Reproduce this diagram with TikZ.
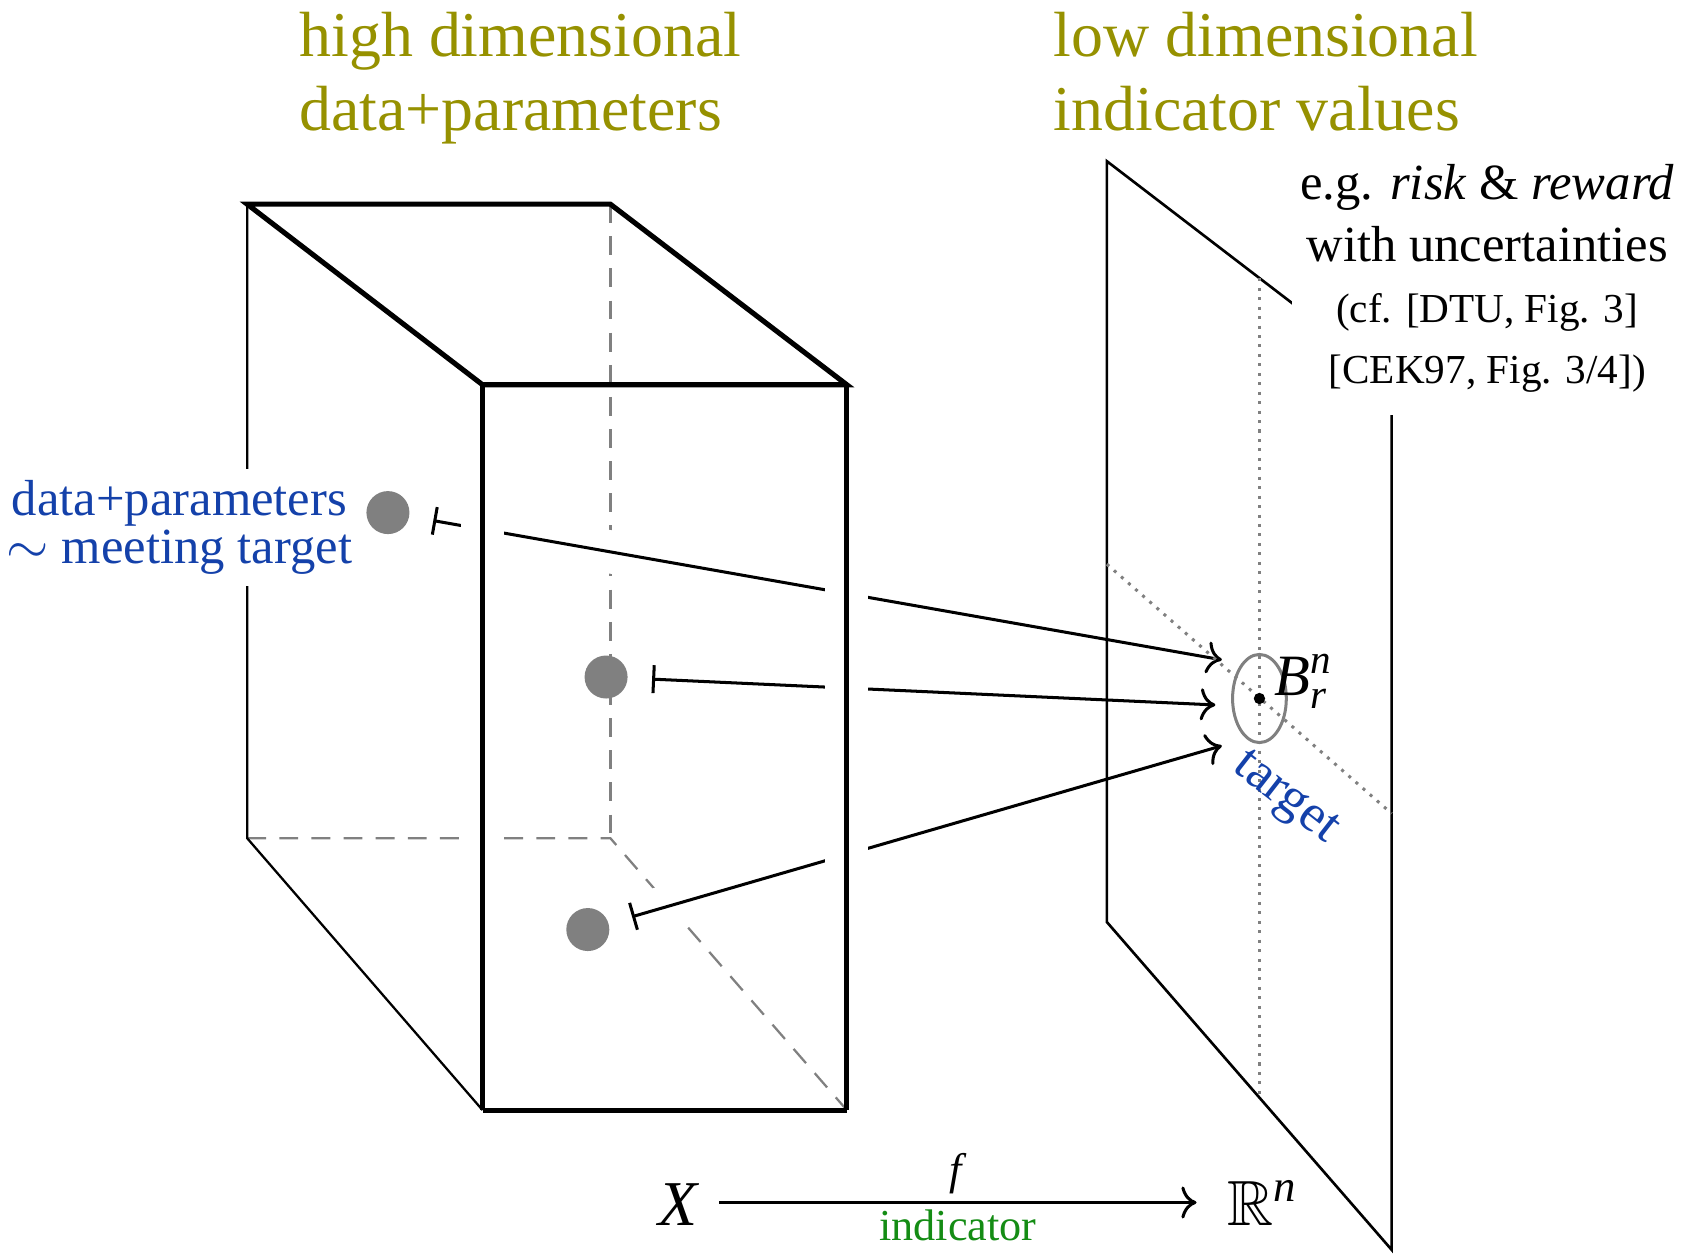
\documentclass[tikz,border=0pt]{standalone}
\usepackage{amsmath,amssymb}
\usepackage{fontspec}
\setmainfont{Liberation Serif}
\usetikzlibrary{arrows.meta}
\definecolor{headolive}{RGB}{150,145,0}
\definecolor{labelblue}{RGB}{20,65,170}
\definecolor{labelgreen}{RGB}{20,140,20}

\begin{document}
\begin{tikzpicture}[
  x=0.01cm, y=-0.01cm,
  edge/.style={line width=1.35pt},
  backedge/.style={line width=0.6pt},
  hidden/.style={gray, line width=0.6pt, dash pattern=on 5pt off 3.5pt},
  onplane/.style={gray, line width=0.8pt, dash pattern=on 0.8pt off 1.7pt},
  halo/.style={preaction={draw=white, line width=0.4cm, -}},
  mapline/.style={line width=0.8pt, {Bar[width=7.4pt]}-{To[length=4pt,width=8.5pt]}, shorten <=6.3pt},
  point/.style={circle, fill=gray, minimum size=0.4cm, inner sep=0pt},
  head/.style={headolive, font=\fontsize{16.9}{19.4}\selectfont, align=left, anchor=north west, inner sep=0pt},
  note/.style={font=\fontsize{13.4}{12.8}\selectfont},
]
\useasboundingbox (0,0) rectangle (1568,1169);

% corners of the box
\coordinate (btl) at (230,190);
\coordinate (btr) at (568,190);
\coordinate (bbl) at (230,780);
\coordinate (bbr) at (568,780);
\coordinate (ftl) at (449,358);
\coordinate (ftr) at (788,358);
\coordinate (fbl) at (449,1033);
\coordinate (fbr) at (788,1033);

% corners of the plane
\coordinate (ptl) at (1030,150);
\coordinate (ptr) at (1295,353);
\coordinate (pbr) at (1295,1163);
\coordinate (pbl) at (1030,858);

% hidden edges
\draw[hidden] (btr) -- (bbr);
\draw[hidden] (bbl) -- (bbr) -- (fbr);

% points in X
\node[point] (p1) at (361,477) {};
\node[point] (p2) at (564,630) {};
\node[point] (p3) at (547,865) {};

\coordinate (hit1) at (1137,614);
\coordinate (hit2) at (1131,656);
\coordinate (hit3) at (1137,694);

\draw[mapline, halo] (p1) -- (hit1);
\draw[mapline, halo] (p2) -- (hit2);
\draw[mapline, halo] (p3) -- (hit3);

% visible edges
\draw[edge, halo] (ftl) -- (fbl);
\draw[edge, preaction={draw=white, line width=0.4cm, shorten >=0.3cm}] (ftr) -- (fbr);
\draw[backedge] (btl) -- (bbl) -- (fbl);
\draw[edge] (btl) -- (btr) -- (ftr) -- (ftl) -- cycle;
\draw[edge] (fbl) -- (fbr);

\node[note, labelblue, align=center, fill=white, inner sep=3pt] (meet) at (167,491)
  {data+parameters\\$\sim$ meeting target};

% target plane
\draw[line width=0.7pt] (ptl) -- (ptr) -- (pbr) -- (pbl) -- cycle;
\draw[onplane] (1172,259) -- (1172,1021);
\draw[onplane] (1030,525) -- (1295,757);
\node[circle, fill, inner sep=0pt, minimum size=3pt] (ctr) at (1172,650) {};
\draw[gray, line width=0.8pt] (ctr) ellipse (25 and 41);
\node[font=\fontsize{15.5}{18}\selectfont] (ball) at (1213,634) {$\textit{B}_{\textit{r}}^{\textit{n}}$};
\node[font=\fontsize{14}{16}\selectfont, labelblue, rotate=-38] (tgt) at (1195,744) {target};

\node[font=\fontsize{13.4}{16.2}\selectfont, align=center, fill=white,
  inner xsep=2.3pt, inner ysep=6pt, anchor=south] (eg) at (1384,387)
  {e.g. \textit{risk} \& \textit{reward}\\with uncertainties\\
   {\fontsize{10.9}{13}\selectfont (cf. [DTU, Fig. 3]}\\
   {\fontsize{10.9}{13}\selectfont [CEK97, Fig. 3/4])}};

% headings
\node[head] (hd1) at (278,11) {high dimensional\\data+parameters};
\node[head] (hd2) at (980,11) {low dimensional\\indicator values};

% the map
\node[font=\fontsize{16.9}{19.4}\selectfont, text height=12pt, text depth=0pt, inner xsep=5pt] (X) at (632,1119) {\textit{X}};
\node[font=\fontsize{16.9}{19.4}\selectfont, text height=12pt, text depth=0pt, inner xsep=8pt] (Rn) at (1175,1119) {$\mathbb{R}^{\textit{n}}$};
\draw[line width=0.8pt, -{To[length=4pt,width=8.5pt]}] (X) -- node[above, inner sep=2pt, font=\fontsize{11.7}{14}\selectfont] (f) {\textit{f}}
  node[below, inner sep=1.5pt, labelgreen, font=\fontsize{11.7}{14}\selectfont] (ind) {indicator} (Rn);
\end{tikzpicture}
\end{document}
